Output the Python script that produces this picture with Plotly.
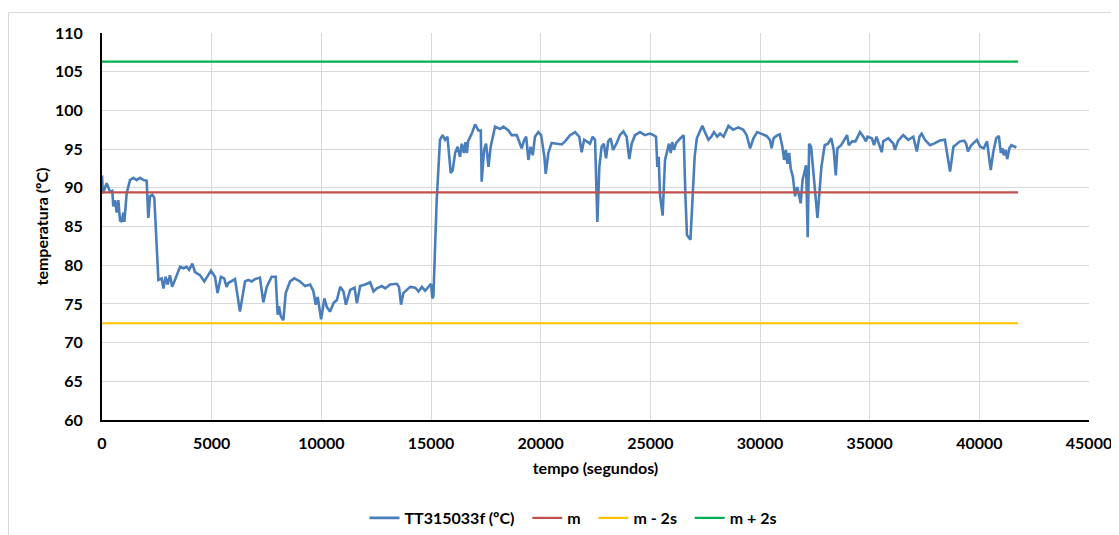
import plotly.graph_objects as go

# ---- data ----
tempo = [0, 40, 214, 367, 470, 515, 593, 670, 745, 820, 898, 975, 1020, 1125, 1277, 1430,
         1580, 1735, 1890, 2036, 2110, 2190, 2295, 2385, 2570, 2720, 2800, 2900, 2990, 3100,
         3200, 3330, 3560, 3710, 3860, 3970, 4120, 4240, 4470, 4665, 4970, 5150, 5270, 5420,
         5570, 5680, 5760, 6065, 6290, 6520, 6670, 6820, 6975, 7200, 7355, 7510, 7735, 7920,
         8010, 8070, 8150, 8270, 8375, 8575, 8770, 9030, 9260, 9490, 9640, 9745, 9835, 9990,
         10140, 10250, 10400, 10555, 10710, 10860, 11010, 11120, 11315, 11515, 11620, 11770,
         12000, 12225, 12380, 12530, 12760, 12910, 13140, 13440, 13540, 13635, 13740, 14050,
         14280, 14430, 14585, 14735, 15000, 15065, 15110, 15260, 15410, 15530, 15640, 15750,
         15840, 15900, 15990, 16100, 16210, 16325, 16400, 16500, 16570, 16640, 16690, 16860,
         17010, 17160, 17270, 17310, 17420, 17510, 17620, 17720, 17920, 18150, 18300, 18530,
         18680, 18910, 19135, 19240, 19340, 19440, 19540, 19640, 19740, 19895, 20020, 20170,
         20230, 20350, 20500, 20730, 20960, 21110, 21340, 21570, 21760, 21870, 21980, 22100,
         22250, 22370, 22480, 22585, 22675, 22780, 22880, 22980, 23080, 23190, 23300, 23455,
         23610, 23770, 23920, 24040, 24150, 24300, 24530, 24750, 24980, 25140, 25260, 25320,
         25380, 25440, 25560, 25670, 25760, 25850, 25930, 26000, 26080, 26180, 26370, 26520,
         26600, 26670, 26830, 26900, 27020, 27120, 27370, 27520, 27650, 27780, 27900, 28050,
         28180, 28340, 28560, 28780, 29010, 29240, 29390, 29550, 29700, 29870, 30070, 30300,
         30450, 30530, 30620, 30750, 30900, 31020, 31100, 31180, 31250, 31330, 31400, 31500,
         31600, 31700, 31790, 31855, 31940, 32010, 32100, 32175, 32240, 32330, 32450, 32530,
         32620, 32710, 32800, 32950, 33100, 33250, 33360, 33455, 33530, 33700, 33850, 33970,
         34050, 34200, 34350, 34560, 34710, 34830, 34900, 35100, 35200, 35310, 35550, 35620,
         35850, 36080, 36150, 36300, 36530, 36760, 36990, 37150, 37270, 37370, 37520, 37750,
         37930, 38200, 38430, 38540, 38665, 38820, 39000, 39120, 39300, 39400, 39480, 39630,
         39890, 40040, 40200, 40350, 40520, 40640, 40770, 40890, 40980, 41050, 41120, 41200,
         41270, 41370, 41460, 41580, 41690]
temperatura = [91.6, 89.3, 90.6, 89.5, 89.6, 87.6, 88.4, 86.8, 88.4, 85.8, 85.6, 86.8, 85.6,
               89.3, 91.0, 91.3, 91.0, 91.3, 91.0, 90.9, 86.1, 88.9, 89.1, 88.7, 78.1, 78.3,
               77.0, 78.5, 77.5, 78.7, 77.2, 78.1, 79.8, 79.6, 79.8, 79.4, 80.2, 79.1, 78.7,
               77.9, 79.3, 78.5, 76.4, 78.5, 78.3, 77.2, 77.7, 78.2, 74.0, 77.9, 78.1, 77.9,
               78.2, 78.4, 75.2, 77.2, 78.5, 78.5, 73.6, 74.7, 73.4, 72.9, 76.4, 77.9, 78.3,
               77.9, 77.3, 77.5, 76.6, 74.9, 75.9, 73.0, 75.7, 74.6, 74.0, 75.1, 75.5, 77.2,
               76.6, 74.9, 76.8, 77.1, 75.1, 77.3, 77.5, 77.8, 76.6, 77.0, 77.3, 77.0, 77.5,
               77.6, 77.2, 74.9, 76.4, 77.2, 77.1, 76.6, 77.2, 76.7, 77.6, 75.7, 76.0, 88.4,
               96.2, 96.8, 96.2, 96.6, 94.0, 91.9, 92.3, 94.5, 95.3, 94.0, 95.7, 94.5, 95.9,
               94.5, 96.0, 97.0, 98.2, 97.4, 97.4, 90.8, 94.9, 95.7, 92.7, 95.3, 97.9, 97.6,
               97.9, 97.4, 96.8, 96.8, 95.1, 96.1, 96.6, 93.6, 95.3, 94.2, 96.6, 97.2, 96.8,
               94.0, 91.8, 94.5, 95.8, 95.7, 95.6, 96.0, 96.8, 97.2, 96.6, 94.6, 96.2, 96.0,
               95.7, 96.6, 96.2, 85.6, 92.7, 95.3, 95.7, 93.8, 96.0, 96.4, 94.9, 95.7, 96.8,
               97.3, 96.6, 93.7, 95.7, 96.8, 97.2, 96.8, 97.0, 96.8, 96.6, 92.7, 94.0, 89.1,
               86.4, 93.6, 94.5, 95.7, 94.5, 95.9, 94.9, 95.8, 96.4, 96.8, 88.9, 83.9, 83.3,
               87.2, 94.0, 96.4, 98.0, 97.0, 96.2, 96.6, 97.2, 96.6, 97.0, 96.6, 98.0, 97.5,
               97.8, 97.5, 96.8, 95.1, 96.4, 97.2, 97.0, 96.7, 96.2, 95.1, 96.4, 96.7, 96.9,
               95.3, 93.6, 94.9, 93.1, 94.5, 92.5, 91.4, 88.9, 90.1, 88.9, 88.0, 91.0, 91.9,
               92.9, 83.6, 95.7, 95.3, 91.4, 88.5, 86.1, 89.4, 92.7, 95.5, 95.7, 96.4, 94.9,
               91.6, 95.1, 95.5, 96.2, 96.8, 95.5, 96.0, 96.0, 97.2, 96.6, 96.0, 96.6, 96.4,
               95.5, 96.6, 94.6, 96.0, 96.4, 95.7, 94.9, 96.1, 96.8, 96.2, 96.6, 94.7, 96.6,
               97.0, 96.2, 95.5, 95.7, 96.1, 96.2, 94.5, 92.1, 95.3, 95.8, 96.0, 96.1, 95.7,
               94.7, 95.5, 96.2, 95.3, 95.1, 96.0, 92.3, 94.7, 96.4, 96.7, 94.5, 95.1, 94.2,
               94.9, 93.7, 95.1, 95.5, 95.3, 95.2]

media = 89.4
media_menos_2s = 72.5
media_mais_2s = 106.3
linha_tempo = [0, 41770]

serie_nomes = ["TT315033f (ºC)", "m", "m - 2s", "m + 2s"]
x_ticks = [0, 5000, 10000, 15000, 20000, 25000, 30000, 35000, 40000, 45000]
y_ticks = [60, 65, 70, 75, 80, 85, 90, 95, 100, 105, 110]

FONT = "Lato"
PAD = "\u00a0\u00a0"  # extra room between legend entries

fig = go.Figure()
fig.add_trace(go.Scatter(x=tempo, y=temperatura, mode="lines", name=serie_nomes[0] + PAD,
                         line=dict(color="#4A7EBB", width=2.6)))
fig.add_trace(go.Scatter(x=linha_tempo, y=[media] * 2, mode="lines", name=serie_nomes[1] + PAD,
                         line=dict(color="#C0504D", width=2.2)))
fig.add_trace(go.Scatter(x=linha_tempo, y=[media_menos_2s] * 2, mode="lines",
                         name=serie_nomes[2] + PAD, line=dict(color="#FFC000", width=2.2)))
fig.add_trace(go.Scatter(x=linha_tempo, y=[media_mais_2s] * 2, mode="lines",
                         name=serie_nomes[3], line=dict(color="#00B050", width=2.2)))

# the page body has an 8px margin, so the figure is made 8px smaller and offset
OFF = 8
W, H = 1119 - OFF, 535 - OFF
L, R, T, B = 102 - OFF, 1089 - OFF, 33 - OFF, 420 - OFF
PW = R - L
PH = B - T

fig.update_layout(
    width=W, height=H,
    margin=dict(l=L, r=W - R, t=T, b=H - B, autoexpand=False),
    paper_bgcolor="white", plot_bgcolor="white",
    font=dict(family=FONT, color="#000000"),
    showlegend=True,
    legend=dict(orientation="h", x=(573 - OFF - L) / PW, xanchor="center",
                y=-(518 - 420) / PH, yanchor="middle",
                font=dict(family=FONT, size=16, color="#000000", weight="bold"),
                itemwidth=30, traceorder="normal"),
    shapes=[dict(type="rect", xref="paper", yref="paper",
                 x0=-(L - 0.5) / PW, x1=(W + 10 - L) / PW, y0=-0.6,
                 y1=1 + (T - 4.5) / PH,
                 line=dict(color="#D9D9D9", width=1), fillcolor="rgba(0,0,0,0)", layer="below")],
)
fig.update_xaxes(
    range=[0, 45000], tickvals=x_ticks, ticktext=[str(v) for v in x_ticks],
    showgrid=True, gridcolor="#D9D9D9", gridwidth=1, automargin=False,
    showline=True, linecolor="#000000", linewidth=2, zeroline=False,
    ticks="", ticklabelstandoff=8,
    tickfont=dict(family=FONT, size=16, color="#000000", weight="bold"),
    title=dict(text="<b>tempo (segundos)</b>", font=dict(family=FONT, size=16, color="#000000"),
               standoff=12),
)
fig.update_yaxes(
    range=[60, 110], tickvals=y_ticks, ticktext=[str(v) for v in y_ticks],
    showgrid=True, gridcolor="#D9D9D9", gridwidth=1, automargin=False,
    showline=True, linecolor="#000000", linewidth=2, zeroline=False,
    ticks="", ticklabelstandoff=14,
    tickfont=dict(family=FONT, size=16, color="#000000", weight="bold"),
    title=dict(text="<b>temperatura (ºC)</b>", font=dict(family=FONT, size=16, color="#000000"),
               standoff=2),
)

fig.write_html("out.html")
